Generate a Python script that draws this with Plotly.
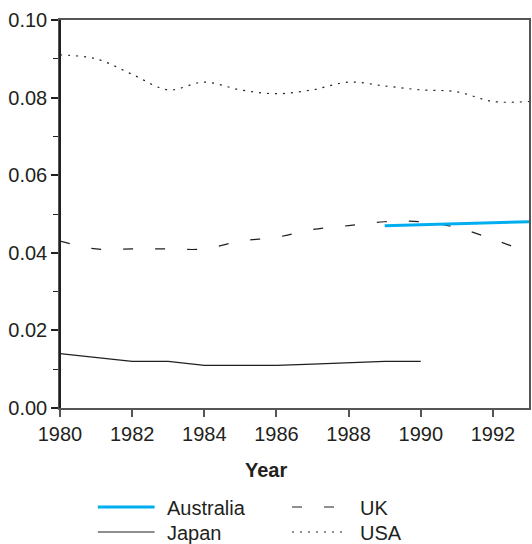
import plotly.graph_objects as go

years_usa = [1980, 1981, 1982, 1983, 1984, 1985, 1986, 1987, 1988, 1989, 1990, 1991, 1992, 1993]
usa = [0.091, 0.090, 0.086, 0.082, 0.084, 0.082, 0.081, 0.082, 0.084, 0.083, 0.082, 0.0815, 0.079, 0.079]

years_uk = [1980, 1981, 1982, 1983, 1984, 1985, 1986, 1987, 1988, 1989, 1990, 1991, 1992, 1993]
uk = [0.043, 0.041, 0.041, 0.041, 0.041, 0.043, 0.044, 0.046, 0.047, 0.048, 0.048, 0.0465, 0.0435, 0.040]

years_japan = [1980, 1981, 1982, 1983, 1984, 1985, 1986, 1987, 1988, 1989, 1990]
japan = [0.014, 0.013, 0.012, 0.012, 0.011, 0.011, 0.011, 0.0113, 0.0117, 0.012, 0.012]

years_aus = [1989, 1993]
australia = [0.047, 0.048]

x_ticks = [1980, 1982, 1984, 1986, 1988, 1990, 1992]
y_ticks = [0.00, 0.02, 0.04, 0.06, 0.08, 0.10]

INK = "#231f20"
BLUE = "#00aeef"
FONT = "Liberation Sans"
FS = 20

fig = go.Figure()
fig.add_trace(go.Scatter(x=years_usa, y=usa, mode="lines", name="USA",
                         line=dict(color=INK, width=1.2, dash="2px,6px", shape="spline", smoothing=1.0)))
fig.add_trace(go.Scatter(x=years_uk, y=uk, mode="lines", name="UK",
                         line=dict(color=INK, width=1.2, dash="10px,22px", shape="spline", smoothing=1.0)))
fig.add_trace(go.Scatter(x=years_japan, y=japan, mode="lines", name="Japan",
                         line=dict(color=INK, width=1.2)))
fig.add_trace(go.Scatter(x=years_aus, y=australia, mode="lines", name="Australia",
                         line=dict(color=BLUE, width=3)))

# manual legend (layout decoration)
L, R, T, B = 60, 531, 20, 408
def px_x(p):
    return (p - L) / (R - L)
def px_y(p):
    return (B - p) / (B - T)

legend_items = [
    ("Australia", BLUE, 3, "solid", 98, 155, 167, 507),
    ("Japan", INK, 1.2, "solid", 98, 155, 167, 532),
    ("UK", INK, 1.2, "10px,22px", 293, 345, 361, 507),
    ("USA", INK, 1.2, "2px,6px", 293, 345, 361, 532),
]
shapes = []
annotations = []
for name, col, w, dash, x0, x1, xt, yy in legend_items:
    shapes.append(dict(type="line", xref="paper", yref="paper",
                       x0=px_x(x0), x1=px_x(x1), y0=px_y(yy), y1=px_y(yy),
                       line=dict(color=col, width=w, dash=dash)))
    annotations.append(dict(text=name, xref="paper", yref="paper", x=px_x(xt - 2), y=px_y(yy + 1),
                            xanchor="left", yanchor="middle", showarrow=False,
                            font=dict(family=FONT, size=FS, color=INK)))

annotations.append(dict(text="<b>Year</b>", xref="paper", yref="paper", x=px_x(267), y=px_y(470),
                        xanchor="center", yanchor="middle", showarrow=False,
                        font=dict(family=FONT, size=FS, color=INK)))

fig.update_layout(
    width=532, height=544,
    margin=dict(l=L, r=532 - R, t=T, b=544 - B),
    plot_bgcolor="white", paper_bgcolor="white",
    showlegend=False,
    font=dict(family=FONT, size=FS, color=INK),
    shapes=shapes,
    annotations=annotations,
)
fig.update_xaxes(range=[1980, 1993], tickvals=x_ticks, ticks="outside", ticklen=7, tickwidth=1.5,
                 tickcolor="#555", showgrid=False, zeroline=False, showline=True, linecolor="#555",
                 linewidth=1.5, mirror=True, tickfont=dict(size=FS, color=INK))
fig.update_yaxes(range=[0, 0.10], tickvals=y_ticks, tickformat=".2f", ticks="outside", ticklen=7,
                 tickwidth=1.5, tickcolor=INK, showgrid=False, zeroline=False, showline=True,
                 linecolor="#555", linewidth=1.5, mirror=True,
                 minor=dict(dtick=0.01, ticks="outside", ticklen=5, tickwidth=1.2, tickcolor=INK, showgrid=False),
                 tickfont=dict(size=FS, color=INK))

# slightly heavier black left axis line
fig.add_shape(type="line", xref="paper", yref="paper", x0=0, x1=0, y0=0, y1=1,
              line=dict(color=INK, width=2))

fig.write_html("out.html", config={"displayModeBar": False},
               post_script="document.body.style.margin='0';document.body.style.overflow='hidden';")
